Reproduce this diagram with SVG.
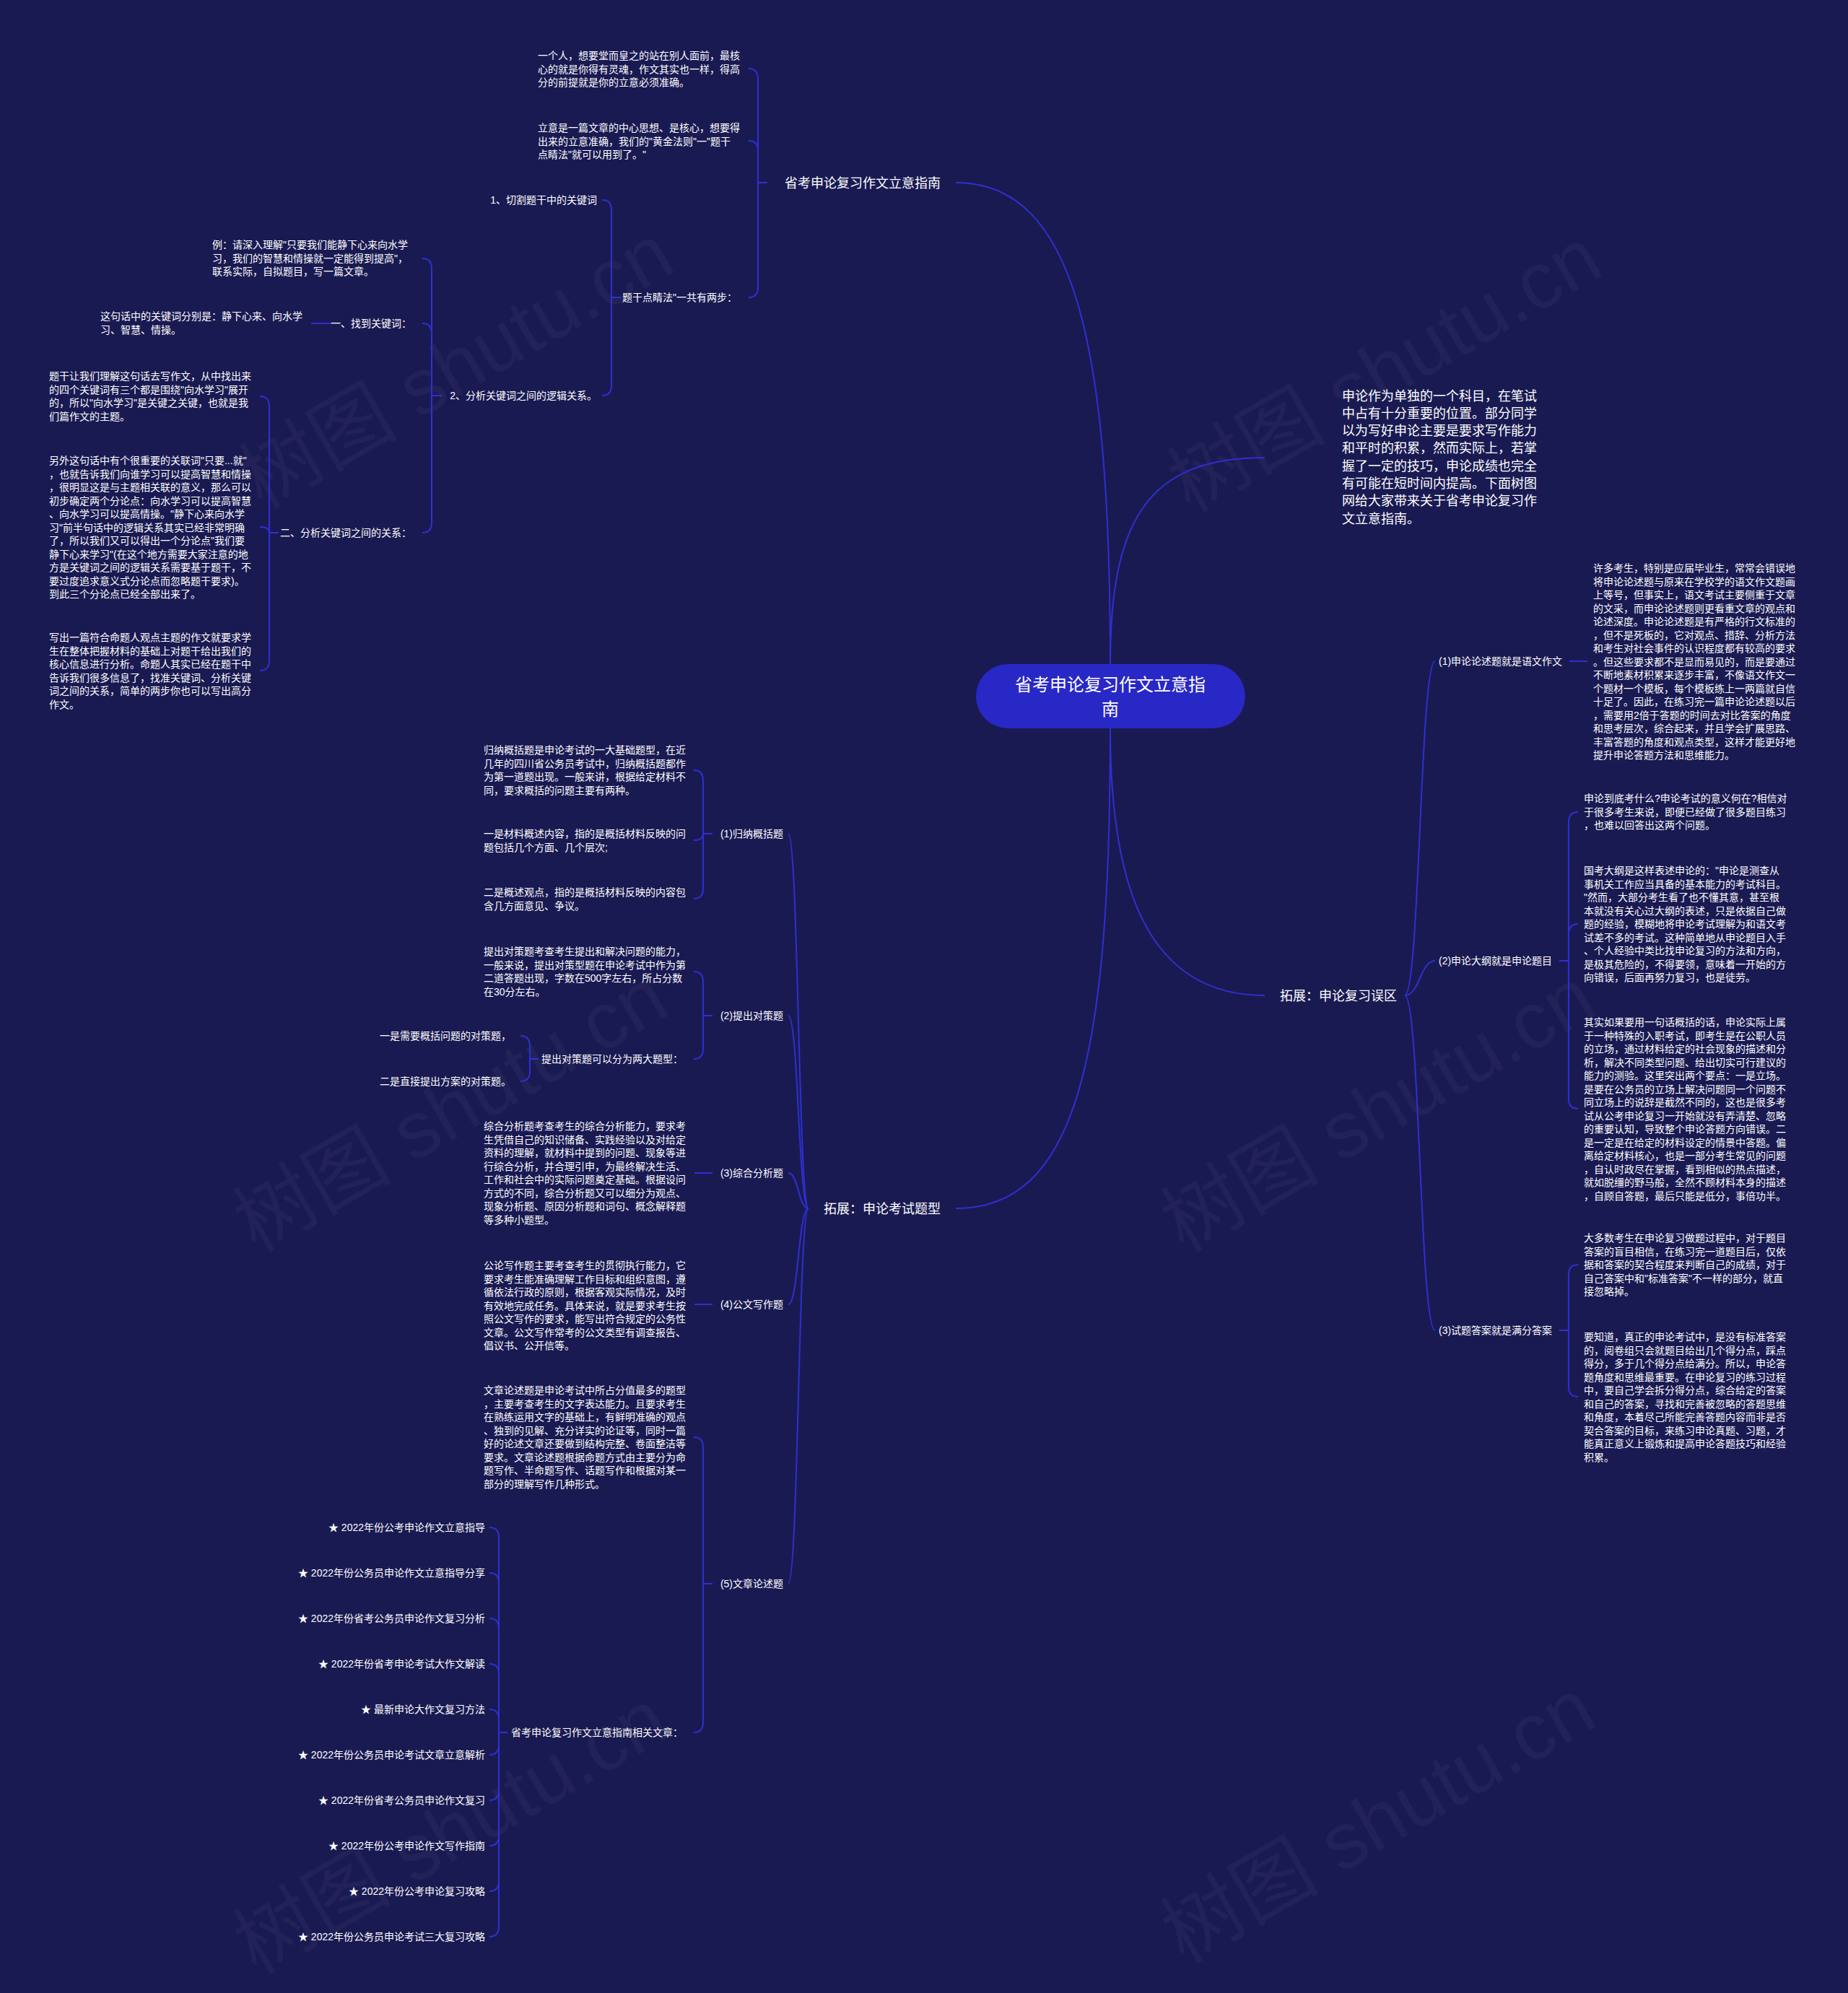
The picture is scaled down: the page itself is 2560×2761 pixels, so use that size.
<svg xmlns="http://www.w3.org/2000/svg" width="2560" height="2761" viewBox="0 0 2560 2761">
<style>
.t{font-family:"Liberation Sans","Noto Sans CJK SC",sans-serif;font-size:14px;fill:#ffffff}
.m{font-size:18px}
.e{text-anchor:end}
.ln{fill:none;stroke:#2f2fd2;stroke-width:2}
.wm{font-family:"Liberation Sans","Noto Sans CJK SC",sans-serif;font-size:110px;fill:#ffffff;fill-opacity:0.035;text-anchor:middle}
</style>
<rect x="0" y="0" width="2560" height="2761" fill="#1a1a52"/>
<g id="watermarks">
<text class="wm" transform="translate(651 540) rotate(-30)">树图 shutu.cn</text>
<text class="wm" transform="translate(1937 545) rotate(-30)">树图 shutu.cn</text>
<text class="wm" transform="translate(643 1570) rotate(-30)">树图 shutu.cn</text>
<text class="wm" transform="translate(1928 1570) rotate(-30)">树图 shutu.cn</text>
<text class="wm" transform="translate(643 2570) rotate(-30)">树图 shutu.cn</text>
<text class="wm" transform="translate(1928 2555) rotate(-30)">树图 shutu.cn</text>
</g>
<g id="connectors" class="ln">
<path d="M1538 920C1538 480 1490 253 1324 253"/>
<path d="M1538 920C1538 720 1590 634 1752 634"/>
<path d="M1538 1009C1538 1230 1590 1379 1752 1379"/>
<path d="M1538 1009C1538 1470 1490 1674 1324 1674"/>
<path d="M1063 253H1050"/>
<path d="M1050 253V109Q1050 95 1037 95"/>
<path d="M1050 253V209Q1050 195 1037 195"/>
<path d="M1050 253V398Q1050 412 1037 412"/>
<path d="M860 412H847"/>
<path d="M847 412V291Q847 277 834 277"/>
<path d="M847 412V534Q847 548 834 548"/>
<path d="M612 548H598"/>
<path d="M598 548V372Q598 358 585 358"/>
<path d="M598 548V462Q598 448 585 448"/>
<path d="M598 548V724Q598 738 585 738"/>
<path d="M458 448H431"/>
<path d="M386 738H373"/>
<path d="M373 738V563Q373 549 360 549"/>
<path d="M373 738Q373 730 360 730"/>
<path d="M373 738V915Q373 929 360 929"/>
<path d="M1946 1379C1967 1379 1967 916 1988 916"/>
<path d="M1946 1379C1967 1379 1967 1331 1988 1331"/>
<path d="M1946 1379C1967 1379 1967 1843 1988 1843"/>
<path d="M2174 916H2199"/>
<path d="M2160 1331H2173"/>
<path d="M2173 1331V1139Q2173 1125 2186 1125"/>
<path d="M2173 1331V1294Q2173 1280 2186 1280"/>
<path d="M2173 1331V1522Q2173 1536 2186 1536"/>
<path d="M2160 1843H2173"/>
<path d="M2173 1843V1766Q2173 1752 2186 1752"/>
<path d="M2173 1843V1921Q2173 1935 2186 1935"/>
<path d="M1120 1674C1106 1674 1106 1155 1092 1155"/>
<path d="M1120 1674C1106 1674 1106 1407 1092 1407"/>
<path d="M1120 1674C1106 1674 1106 1625 1092 1625"/>
<path d="M1120 1674C1106 1674 1106 1807 1092 1807"/>
<path d="M1120 1674C1106 1674 1106 2194 1092 2194"/>
<path d="M987 1155H974"/>
<path d="M974 1155V1081Q974 1067 961 1067"/>
<path d="M974 1155Q974 1164 961 1164"/>
<path d="M974 1155V1231Q974 1245 961 1245"/>
<path d="M987 1407H974"/>
<path d="M974 1407V1360Q974 1346 961 1346"/>
<path d="M974 1407V1453Q974 1467 961 1467"/>
<path d="M987 1625H962"/>
<path d="M987 1807H962"/>
<path d="M987 2194H974"/>
<path d="M974 2194V2005Q974 1991 961 1991"/>
<path d="M974 2194V2386Q974 2400 961 2400"/>
<path d="M746 1467H734"/>
<path d="M734 1467V1449Q734 1435 721 1435"/>
<path d="M734 1467V1484Q734 1498 721 1498"/>
<path d="M703 2400H691"/>
<path d="M691 2400V2130Q691 2116 678 2116"/>
<path d="M691 2400V2193Q691 2179 678 2179"/>
<path d="M691 2400V2256Q691 2242 678 2242"/>
<path d="M691 2400V2319Q691 2305 678 2305"/>
<path d="M691 2400V2382Q691 2368 678 2368"/>
<path d="M691 2400V2417Q691 2431 678 2431"/>
<path d="M691 2400V2480Q691 2494 678 2494"/>
<path d="M691 2400V2543Q691 2557 678 2557"/>
<path d="M691 2400V2606Q691 2620 678 2620"/>
<path d="M691 2400V2669Q691 2683 678 2683"/>
</g>
<g id="root">
<rect x="1352" y="920" width="373" height="89" rx="44.5" fill="#2828c6"/>
<text class="t" style="font-size:24px;text-anchor:middle"><tspan x="1538" y="957">省考申论复习作文立意指</tspan><tspan x="1538" y="991">南</tspan></text>
</g>
<g id="n-guide">
<text class="t m e" x="1303" y="259.5">省考申论复习作文立意指南</text>
</g>
<g id="n-guide-a">
<text class="t"><tspan x="745" y="82">一个人，想要堂而皇之的站在别人面前，最核</tspan><tspan x="745" y="100.5">心的就是你得有灵魂，作文其实也一样，得高</tspan><tspan x="745" y="119">分的前提就是你的立意必须准确。</tspan></text>
</g>
<g id="n-guide-b">
<text class="t"><tspan x="745" y="182">立意是一篇文章的中心思想、是核心，想要得</tspan><tspan x="745" y="200.5">出来的立意准确，我们的"黄金法则"一"题干</tspan><tspan x="745" y="219">点睛法"就可以用到了。"</tspan></text>
</g>
<g id="n-steps">
<text class="t e" x="1021" y="417">题干点睛法"一共有两步：</text>
</g>
<g id="n-step1">
<text class="t e" x="827" y="282">1、切割题干中的关键词</text>
</g>
<g id="n-step2">
<text class="t e" x="827" y="553">2、分析关键词之间的逻辑关系。</text>
</g>
<g id="n-example">
<text class="t"><tspan x="294" y="344">例：请深入理解"只要我们能静下心来向水学</tspan><tspan x="294" y="362.5">习，我们的智慧和情操就一定能得到提高"，</tspan><tspan x="294" y="381">联系实际，自拟题目，写一篇文章。</tspan></text>
</g>
<g id="n-find">
<text class="t e" x="570" y="453">一、找到关键词：</text>
</g>
<g id="n-find-a">
<text class="t"><tspan x="139" y="443">这句话中的关键词分别是：静下心来、向水学</tspan><tspan x="139" y="461.5">习、智慧、情操。</tspan></text>
</g>
<g id="n-analyse">
<text class="t e" x="570" y="743">二、分析关键词之间的关系：</text>
</g>
<g id="n-analyse-a">
<text class="t"><tspan x="68" y="526">题干让我们理解这句话去写作文，从中找出来</tspan><tspan x="68" y="544.5">的四个关键词有三个都是围绕"向水学习"展开</tspan><tspan x="68" y="563">的，所以"向水学习"是关键之关键，也就是我</tspan><tspan x="68" y="581.5">们篇作文的主题。</tspan></text>
</g>
<g id="n-analyse-b">
<text class="t"><tspan x="68" y="643">另外这句话中有个很重要的关联词"只要...就"</tspan><tspan x="68" y="661.5">，也就告诉我们向谁学习可以提高智慧和情操</tspan><tspan x="68" y="680">，很明显这是与主题相关联的意义，那么可以</tspan><tspan x="68" y="698.5">初步确定两个分论点：向水学习可以提高智慧</tspan><tspan x="68" y="717">、向水学习可以提高情操。"静下心来向水学</tspan><tspan x="68" y="735.5">习"前半句话中的逻辑关系其实已经非常明确</tspan><tspan x="68" y="754">了，所以我们又可以得出一个分论点"我们要</tspan><tspan x="68" y="772.5">静下心来学习"(在这个地方需要大家注意的地</tspan><tspan x="68" y="791">方是关键词之间的逻辑关系需要基于题干，不</tspan><tspan x="68" y="809.5">要过度追求意义式分论点而忽略题干要求)。</tspan><tspan x="68" y="828">到此三个分论点已经全部出来了。</tspan></text>
</g>
<g id="n-analyse-c">
<text class="t"><tspan x="68" y="888">写出一篇符合命题人观点主题的作文就要求学</tspan><tspan x="68" y="906.5">生在整体把握材料的基础上对题干给出我们的</tspan><tspan x="68" y="925">核心信息进行分析。命题人其实已经在题干中</tspan><tspan x="68" y="943.5">告诉我们很多信息了，找准关键词、分析关键</tspan><tspan x="68" y="962">词之间的关系，简单的两步你也可以写出高分</tspan><tspan x="68" y="980.5">作文。</tspan></text>
</g>
<g id="n-intro">
<text class="t m"><tspan x="1859" y="554.5">申论作为单独的一个科目，在笔试</tspan><tspan x="1859" y="578.8">中占有十分重要的位置。部分同学</tspan><tspan x="1859" y="603.1">以为写好申论主要是要求写作能力</tspan><tspan x="1859" y="627.4">和平时的积累，然而实际上，若掌</tspan><tspan x="1859" y="651.7">握了一定的技巧，申论成绩也完全</tspan><tspan x="1859" y="676">有可能在短时间内提高。下面树图</tspan><tspan x="1859" y="700.3">网给大家带来关于省考申论复习作</tspan><tspan x="1859" y="724.6">文立意指南。</tspan></text>
</g>
<g id="n-mistakes">
<text class="t m" x="1773" y="1385.5">拓展：申论复习误区</text>
</g>
<g id="n-m1">
<text class="t" x="1993" y="921">(1)申论论述题就是语文作文</text>
</g>
<g id="n-m1-a">
<text class="t"><tspan x="2207" y="792">许多考生，特别是应届毕业生，常常会错误地</tspan><tspan x="2207" y="810.5">将申论论述题与原来在学校学的语文作文题画</tspan><tspan x="2207" y="829">上等号，但事实上，语文考试主要侧重于文章</tspan><tspan x="2207" y="847.5">的文采，而申论论述题则更看重文章的观点和</tspan><tspan x="2207" y="866">论述深度。申论论述题是有严格的行文标准的</tspan><tspan x="2207" y="884.5">，但不是死板的，它对观点、措辞、分析方法</tspan><tspan x="2207" y="903">和考生对社会事件的认识程度都有较高的要求</tspan><tspan x="2207" y="921.5">。但这些要求都不是显而易见的，而是要通过</tspan><tspan x="2207" y="940">不断地素材积累来逐步丰富，不像语文作文一</tspan><tspan x="2207" y="958.5">个题材一个模板，每个模板练上一两篇就自信</tspan><tspan x="2207" y="977">十足了。因此，在练习完一篇申论论述题以后</tspan><tspan x="2207" y="995.5">，需要用2倍于答题的时间去对比答案的角度</tspan><tspan x="2207" y="1014">和思考层次，综合起来，并且学会扩展思路、</tspan><tspan x="2207" y="1032.5">丰富答题的角度和观点类型，这样才能更好地</tspan><tspan x="2207" y="1051">提升申论答题方法和思维能力。</tspan></text>
</g>
<g id="n-m2">
<text class="t" x="1993" y="1336">(2)申论大纲就是申论题目</text>
</g>
<g id="n-m2-a">
<text class="t"><tspan x="2194" y="1111">申论到底考什么?申论考试的意义何在?相信对</tspan><tspan x="2194" y="1129.5">于很多考生来说，即便已经做了很多题目练习</tspan><tspan x="2194" y="1148">，也难以回答出这两个问题。</tspan></text>
</g>
<g id="n-m2-b">
<text class="t"><tspan x="2194" y="1211">国考大纲是这样表述申论的："申论是测查从</tspan><tspan x="2194" y="1229.5">事机关工作应当具备的基本能力的考试科目。</tspan><tspan x="2194" y="1248">"然而，大部分考生看了也不懂其意，甚至根</tspan><tspan x="2194" y="1266.5">本就没有关心过大纲的表述，只是依据自己做</tspan><tspan x="2194" y="1285">题的经验，模糊地将申论考试理解为和语文考</tspan><tspan x="2194" y="1303.5">试差不多的考试。这种简单地从申论题目入手</tspan><tspan x="2194" y="1322">、个人经验中类比找申论复习的方法和方向，</tspan><tspan x="2194" y="1340.5">是极其危险的，不得要领，意味着一开始的方</tspan><tspan x="2194" y="1359">向错误，后面再努力复习，也是徒劳。</tspan></text>
</g>
<g id="n-m2-c">
<text class="t"><tspan x="2194" y="1421">其实如果要用一句话概括的话，申论实际上属</tspan><tspan x="2194" y="1439.5">于一种特殊的入职考试，即考生是在公职人员</tspan><tspan x="2194" y="1458">的立场，通过材料给定的社会现象的描述和分</tspan><tspan x="2194" y="1476.5">析，解决不同类型问题、给出切实可行建议的</tspan><tspan x="2194" y="1495">能力的测验。这里突出两个要点：一是立场。</tspan><tspan x="2194" y="1513.5">是要在公务员的立场上解决问题同一个问题不</tspan><tspan x="2194" y="1532">同立场上的说辞是截然不同的，这也是很多考</tspan><tspan x="2194" y="1550.5">试从公考申论复习一开始就没有弄清楚、忽略</tspan><tspan x="2194" y="1569">的重要认知，导致整个申论答题方向错误。二</tspan><tspan x="2194" y="1587.5">是一定是在给定的材料设定的情景中答题。偏</tspan><tspan x="2194" y="1606">离给定材料核心，也是一部分考生常见的问题</tspan><tspan x="2194" y="1624.5">，自认时政尽在掌握，看到相似的热点描述，</tspan><tspan x="2194" y="1643">就如脱缰的野马般，全然不顾材料本身的描述</tspan><tspan x="2194" y="1661.5">，自顾自答题，最后只能是低分，事倍功半。</tspan></text>
</g>
<g id="n-m3">
<text class="t" x="1993" y="1848">(3)试题答案就是满分答案</text>
</g>
<g id="n-m3-a">
<text class="t"><tspan x="2194" y="1720">大多数考生在申论复习做题过程中，对于题目</tspan><tspan x="2194" y="1738.5">答案的盲目相信，在练习完一道题目后，仅依</tspan><tspan x="2194" y="1757">据和答案的契合程度来判断自己的成绩，对于</tspan><tspan x="2194" y="1775.5">自己答案中和"标准答案"不一样的部分，就直</tspan><tspan x="2194" y="1794">接忽略掉。</tspan></text>
</g>
<g id="n-m3-b">
<text class="t"><tspan x="2194" y="1857">要知道，真正的申论考试中，是没有标准答案</tspan><tspan x="2194" y="1875.5">的，阅卷组只会就题目给出几个得分点，踩点</tspan><tspan x="2194" y="1894">得分，多于几个得分点给满分。所以，申论答</tspan><tspan x="2194" y="1912.5">题角度和思维最重要。在申论复习的练习过程</tspan><tspan x="2194" y="1931">中，要自己学会拆分得分点，综合给定的答案</tspan><tspan x="2194" y="1949.5">和自己的答案，寻找和完善被忽略的答题思维</tspan><tspan x="2194" y="1968">和角度，本着尽己所能完善答题内容而非是否</tspan><tspan x="2194" y="1986.5">契合答案的目标，来练习申论真题、习题，才</tspan><tspan x="2194" y="2005">能真正意义上锻炼和提高申论答题技巧和经验</tspan><tspan x="2194" y="2023.5">积累。</tspan></text>
</g>
<g id="n-types">
<text class="t m e" x="1303" y="1680.5">拓展：申论考试题型</text>
</g>
<g id="n-t1">
<text class="t e" x="1085" y="1160">(1)归纳概括题</text>
</g>
<g id="n-t1-a">
<text class="t"><tspan x="670" y="1044">归纳概括题是申论考试的一大基础题型，在近</tspan><tspan x="670" y="1062.5">几年的四川省公务员考试中，归纳概括题都作</tspan><tspan x="670" y="1081">为第一道题出现。一般来讲，根据给定材料不</tspan><tspan x="670" y="1099.5">同，要求概括的问题主要有两种。</tspan></text>
</g>
<g id="n-t1-b">
<text class="t"><tspan x="670" y="1160">一是材料概述内容，指的是概括材料反映的问</tspan><tspan x="670" y="1178.5">题包括几个方面、几个层次;</tspan></text>
</g>
<g id="n-t1-c">
<text class="t"><tspan x="670" y="1241">二是概述观点，指的是概括材料反映的内容包</tspan><tspan x="670" y="1259.5">含几方面意见、争议。</tspan></text>
</g>
<g id="n-t2">
<text class="t e" x="1085" y="1412">(2)提出对策题</text>
</g>
<g id="n-t2-a">
<text class="t"><tspan x="670" y="1323">提出对策题考查考生提出和解决问题的能力，</tspan><tspan x="670" y="1341.5">一般来说，提出对策型题在申论考试中作为第</tspan><tspan x="670" y="1360">二道答题出现，字数在500字左右，所占分数</tspan><tspan x="670" y="1378.5">在30分左右。</tspan></text>
</g>
<g id="n-t2-b">
<text class="t e" x="946" y="1472">提出对策题可以分为两大题型：</text>
</g>
<g id="n-t2-b1">
<text class="t e" x="708" y="1440">一是需要概括问题的对策题，</text>
</g>
<g id="n-t2-b2">
<text class="t e" x="708" y="1503">二是直接提出方案的对策题。</text>
</g>
<g id="n-t3">
<text class="t e" x="1085" y="1630">(3)综合分析题</text>
</g>
<g id="n-t3-a">
<text class="t"><tspan x="670" y="1565">综合分析题考查考生的综合分析能力，要求考</tspan><tspan x="670" y="1583.5">生凭借自己的知识储备、实践经验以及对给定</tspan><tspan x="670" y="1602">资料的理解，就材料中提到的问题、现象等进</tspan><tspan x="670" y="1620.5">行综合分析，并合理引申，为最终解决生活、</tspan><tspan x="670" y="1639">工作和社会中的实际问题奠定基础。根据设问</tspan><tspan x="670" y="1657.5">方式的不同，综合分析题又可以细分为观点、</tspan><tspan x="670" y="1676">现象分析题、原因分析题和词句、概念解释题</tspan><tspan x="670" y="1694.5">等多种小题型。</tspan></text>
</g>
<g id="n-t4">
<text class="t e" x="1085" y="1812">(4)公文写作题</text>
</g>
<g id="n-t4-a">
<text class="t"><tspan x="670" y="1758">公论写作题主要考查考生的贯彻执行能力，它</tspan><tspan x="670" y="1776.5">要求考生能准确理解工作目标和组织意图，遵</tspan><tspan x="670" y="1795">循依法行政的原则，根据客观实际情况，及时</tspan><tspan x="670" y="1813.5">有效地完成任务。具体来说，就是要求考生按</tspan><tspan x="670" y="1832">照公文写作的要求，能写出符合规定的公务性</tspan><tspan x="670" y="1850.5">文章。公文写作常考的公文类型有调查报告、</tspan><tspan x="670" y="1869">倡议书、公开信等。</tspan></text>
</g>
<g id="n-t5">
<text class="t e" x="1085" y="2199">(5)文章论述题</text>
</g>
<g id="n-t5-a">
<text class="t"><tspan x="670" y="1931">文章论述题是申论考试中所占分值最多的题型</tspan><tspan x="670" y="1949.5">，主要考查考生的文字表达能力。且要求考生</tspan><tspan x="670" y="1968">在熟练运用文字的基础上，有鲜明准确的观点</tspan><tspan x="670" y="1986.5">、独到的见解、充分详实的论证等，同时一篇</tspan><tspan x="670" y="2005">好的论述文章还要做到结构完整、卷面整洁等</tspan><tspan x="670" y="2023.5">要求。文章论述题根据命题方式由主要分为命</tspan><tspan x="670" y="2042">题写作、半命题写作、话题写作和根据对某一</tspan><tspan x="670" y="2060.5">部分的理解写作几种形式。</tspan></text>
</g>
<g id="n-related">
<text class="t e" x="946" y="2405">省考申论复习作文立意指南相关文章：</text>
</g>
<g id="n-links">
<text class="t e" x="672" y="2121">★ 2022年份公考申论作文立意指导</text>
<text class="t e" x="672" y="2184">★ 2022年份公务员申论作文立意指导分享</text>
<text class="t e" x="672" y="2247">★ 2022年份省考公务员申论作文复习分析</text>
<text class="t e" x="672" y="2310">★ 2022年份省考申论考试大作文解读</text>
<text class="t e" x="672" y="2373">★ 最新申论大作文复习方法</text>
<text class="t e" x="672" y="2436">★ 2022年份公务员申论考试文章立意解析</text>
<text class="t e" x="672" y="2499">★ 2022年份省考公务员申论作文复习</text>
<text class="t e" x="672" y="2562">★ 2022年份公考申论作文写作指南</text>
<text class="t e" x="672" y="2625">★ 2022年份公考申论复习攻略</text>
<text class="t e" x="672" y="2688">★ 2022年份公务员申论考试三大复习攻略</text>
</g>
</svg>
